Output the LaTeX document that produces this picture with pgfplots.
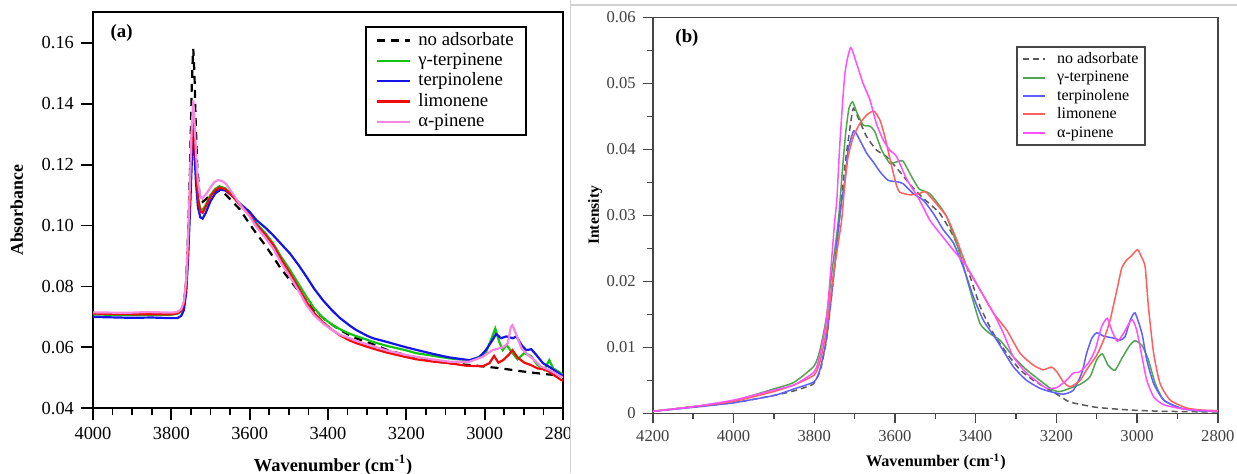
\documentclass[border=0pt]{standalone}
\usepackage{fontspec}
\setmainfont{Liberation Serif}
\usepackage{pgfplots}
\pgfplotsset{compat=1.18}
\definecolor{agreen}{RGB}{20,195,20}
\definecolor{ablue}{RGB}{20,20,230}
\definecolor{ared}{RGB}{240,10,10}
\definecolor{apink}{RGB}{245,135,225}
\definecolor{bgreen}{RGB}{80,165,80}
\definecolor{bblue}{RGB}{95,95,255}
\definecolor{bred}{RGB}{255,95,95}
\definecolor{bmag}{RGB}{255,80,255}
\definecolor{bgray}{RGB}{90,90,90}
\definecolor{bframe}{RGB}{70,70,70}
\begin{document}
\begin{tikzpicture}
\useasboundingbox (0,0) rectangle (618.5pt,236.5pt);
\begin{axis}[
  at={(46.5pt,32.35pt)}, anchor=south west,
  scale only axis, width=235pt, height=198pt,
  xmin=2800, xmax=4000, x dir=reverse, ymin=0.04, ymax=0.17,
  scaled ticks=false,
  xtick={2800,3000,3200,3400,3600,3800,4000},
  xticklabels={2800,3000,3200,3400,3600,3800,4000},
  minor x tick num=3,
  ytick={0.04,0.06,0.08,0.10,0.12,0.14,0.16},
  yticklabels={0.04,0.06,0.08,0.10,0.12,0.14,0.16},
  tick pos=left, tick align=outside,
  major tick length=6pt, minor tick length=3.5pt,
  every tick/.append style={black, line width=0.9pt},
  axis line style={line width=1pt},
  tick label style={font=\fontsize{9.2}{11}\selectfont},
  xlabel={\bfseries Wavenumber (cm\textsuperscript{-1})},
  ylabel={\bfseries Absorbance},
  xlabel style={font=\fontsize{9.2}{11}\selectfont, at={(axis description cs:0.511,-0.143)}, anchor=center},
  ylabel style={font=\fontsize{8.9}{11}\selectfont, at={(axis description cs:-0.162,0.5)}, anchor=center},
  legend style={at={(axis description cs:0.923,0.965)}, anchor=north east, draw=black, line width=1pt,
    font=\fontsize{9.4}{10}\selectfont, row sep=0pt, column sep=2.5pt, inner xsep=5pt, inner ysep=1.5pt,
    nodes={inner sep=1pt, text height=6.5pt, text depth=1.7pt}},
  legend cell align=left,
  legend image code/.code={\draw[#1, line width=1.25pt] (0pt,0pt) -- (16.5pt,0pt);},
]
\addplot[black, line width=1.1pt, dash pattern=on 4pt off 3pt] coordinates {
(4000,0.0712)(3900,0.0711)(3800,0.0711)(3785,0.0714)(3775,0.0722)(3768,0.0745)(3762,0.082)(3757,0.098)(3752,0.120)(3748,0.145)(3745,0.156)(3744,0.158)(3741,0.150)(3738,0.135)(3734,0.120)(3728,0.110)(3720,0.1078)(3710,0.1088)(3700,0.1102)(3688,0.1113)(3675,0.1115)(3660,0.1100)(3645,0.1080)(3625,0.1053)(3600,0.1005)(3583,0.0974)(3560,0.0935)(3540,0.0897)(3520,0.0858)(3497,0.0821)(3475,0.0785)(3455,0.0752)(3435,0.0722)(3413,0.0697)(3390,0.0675)(3370,0.0658)(3345,0.0640)(3328,0.0630)(3300,0.0617)(3285,0.0610)(3250,0.0592)(3200,0.0574)(3175,0.0564)(3130,0.0555)(3090,0.0548)(3022,0.0540)(2963,0.0532)(2903,0.0521)(2851,0.0513)(2805,0.0507)(2800,0.0506)};
\addlegendentry{no adsorbate}
\addplot[agreen, line width=1.1pt] coordinates {
(4000,0.0708)(3900,0.0706)(3800,0.0707)(3785,0.0710)(3775,0.0718)(3768,0.0742)(3762,0.080)(3757,0.093)(3752,0.110)(3748,0.126)(3745,0.1340)(3744,0.1355)(3741,0.129)(3737,0.119)(3732,0.109)(3726,0.1055)(3720,0.1051)(3712,0.1068)(3700,0.1100)(3688,0.1120)(3677,0.1129)(3662,0.1122)(3645,0.1100)(3625,0.1068)(3600,0.1038)(3583,0.1007)(3560,0.0975)(3540,0.0941)(3520,0.0898)(3497,0.0854)(3475,0.0808)(3455,0.0766)(3435,0.0728)(3413,0.0697)(3390,0.0675)(3370,0.0660)(3345,0.0645)(3328,0.0637)(3300,0.0625)(3285,0.0618)(3250,0.0605)(3200,0.0590)(3175,0.0581)(3130,0.0572)(3090,0.0564)(3039,0.0557)(3018,0.0567)(2997,0.0583)(2984,0.0624)(2973,0.0662)(2963,0.0619)(2954,0.0591)(2944,0.0608)(2929,0.0581)(2916,0.0561)(2899,0.0581)(2882,0.0572)(2865,0.0542)(2848,0.0526)(2835,0.0558)(2825,0.0531)(2805,0.0515)(2800,0.0512)};
\addlegendentry{γ-terpinene}
\addplot[ablue, line width=1.1pt] coordinates {
(4000,0.0700)(3900,0.0697)(3850,0.0698)(3800,0.0696)(3785,0.0696)(3775,0.0703)(3768,0.0722)(3762,0.078)(3757,0.090)(3752,0.106)(3748,0.120)(3745,0.1280)(3744,0.1296)(3741,0.124)(3737,0.114)(3732,0.106)(3726,0.1027)(3720,0.1023)(3712,0.1042)(3700,0.1080)(3688,0.1105)(3675,0.1118)(3662,0.1115)(3645,0.1098)(3625,0.1072)(3600,0.1045)(3583,0.1018)(3560,0.0993)(3540,0.0968)(3520,0.0940)(3497,0.0908)(3475,0.0870)(3455,0.0832)(3435,0.0792)(3413,0.0755)(3390,0.0722)(3370,0.0697)(3345,0.0672)(3328,0.0657)(3300,0.0638)(3285,0.0630)(3250,0.0618)(3200,0.0600)(3175,0.0592)(3130,0.0578)(3090,0.0567)(3039,0.0558)(3014,0.0567)(2997,0.0591)(2980,0.0624)(2971,0.0644)(2958,0.0630)(2945,0.0636)(2928,0.0630)(2919,0.0636)(2906,0.0608)(2894,0.0591)(2881,0.0594)(2868,0.0575)(2851,0.0548)(2834,0.0535)(2805,0.0510)(2800,0.0508)};
\addlegendentry{terpinolene}
\addplot[ared, line width=1.1pt] coordinates {
(4000,0.0711)(3900,0.0709)(3800,0.0709)(3785,0.0712)(3775,0.0720)(3768,0.0742)(3762,0.080)(3757,0.094)(3752,0.112)(3748,0.128)(3745,0.136)(3744,0.1375)(3741,0.131)(3737,0.120)(3732,0.109)(3726,0.1045)(3720,0.1042)(3712,0.1062)(3700,0.1096)(3688,0.1116)(3677,0.1125)(3662,0.1119)(3645,0.1098)(3625,0.1068)(3600,0.1035)(3583,0.1002)(3560,0.0970)(3540,0.0936)(3520,0.0890)(3497,0.0843)(3475,0.0795)(3455,0.0750)(3435,0.0712)(3413,0.0683)(3390,0.0658)(3370,0.0640)(3345,0.0623)(3328,0.0614)(3300,0.0602)(3285,0.0596)(3250,0.0583)(3200,0.0568)(3175,0.0561)(3130,0.0553)(3090,0.0548)(3048,0.0540)(3005,0.0538)(2988,0.0548)(2976,0.0572)(2965,0.0550)(2953,0.0558)(2939,0.0575)(2929,0.0591)(2916,0.0567)(2899,0.0550)(2882,0.0542)(2865,0.0531)(2848,0.0528)(2835,0.0520)(2805,0.0493)(2800,0.0491)};
\addlegendentry{limonene}
\addplot[apink, line width=1.1pt] coordinates {
(4000,0.0715)(3950,0.0714)(3900,0.0714)(3860,0.0716)(3800,0.0714)(3785,0.0716)(3775,0.0725)(3768,0.0750)(3762,0.082)(3757,0.097)(3752,0.116)(3748,0.132)(3745,0.139)(3744,0.1411)(3741,0.135)(3737,0.124)(3732,0.114)(3726,0.1095)(3721,0.1089)(3712,0.1102)(3700,0.1125)(3690,0.1143)(3681,0.1149)(3670,0.1146)(3660,0.1136)(3645,0.1108)(3625,0.1070)(3600,0.1030)(3583,0.0996)(3560,0.0960)(3540,0.0925)(3520,0.0878)(3497,0.0832)(3475,0.0785)(3455,0.0739)(3435,0.0705)(3413,0.0679)(3390,0.0657)(3370,0.0642)(3345,0.0630)(3328,0.0621)(3300,0.0610)(3285,0.0604)(3250,0.0590)(3200,0.0575)(3175,0.0569)(3130,0.0560)(3090,0.0553)(3039,0.0553)(3005,0.0569)(2980,0.0591)(2954,0.0600)(2941,0.0613)(2933,0.0668)(2929,0.0673)(2919,0.0641)(2906,0.0597)(2889,0.0575)(2873,0.0558)(2856,0.0537)(2835,0.0526)(2805,0.0504)(2800,0.0502)};
\addlegendentry{α-pinene}
\node[font=\bfseries\fontsize{9.4}{11}\selectfont] at (axis description cs:0.061,0.947) {(a)};
\end{axis}
\fill[white] (285pt,-1pt) rectangle (620pt,238pt);
\draw[gray!35, line width=0.6pt] (285.3pt,0pt) -- (285.3pt,236.5pt);
\draw[gray!35, line width=0.6pt] (285.3pt,234pt) -- (618.5pt,234pt);
\begin{axis}[
  at={(326.4pt,29.85pt)}, anchor=south west,
  scale only axis, width=282.5pt, height=198pt,
  xmin=2800, xmax=4200, x dir=reverse, ymin=0, ymax=0.06,
  scaled ticks=false,
  xtick={2800,3000,3200,3400,3600,3800,4000,4200},
  xticklabels={2800,3000,3200,3400,3600,3800,4000,4200},
  minor x tick num=1,
  ytick={0,0.01,0.02,0.03,0.04,0.05,0.06},
  yticklabels={0,0.01,0.02,0.03,0.04,0.05,0.06},
  minor y tick num=1,
  tick pos=left, tick align=outside,
  major tick length=5pt, minor tick length=2.8pt,
  every tick/.append style={bframe, line width=0.7pt},
  axis line style={bframe, line width=0.75pt},
  tick label style={font=\fontsize{8.3}{10}\selectfont, text=black!75},
  xlabel={\bfseries Wavenumber (cm\textsuperscript{-1})},
  ylabel={\bfseries Intensity},
  xlabel style={font=\fontsize{8.1}{10}\selectfont, at={(axis description cs:0.501,-0.123)}, anchor=center},
  ylabel style={font=\fontsize{7.8}{10}\selectfont, at={(axis description cs:-0.102,0.5)}, anchor=center},
  legend style={at={(axis description cs:0.873,0.927)}, anchor=north east, draw=bframe, line width=0.8pt,
    font=\fontsize{8}{9}\selectfont, row sep=0pt, column sep=4.5pt, inner xsep=2.5pt, inner ysep=1.5pt,
    nodes={inner sep=0.9pt, text height=5.8pt, text depth=1.6pt}},
  legend cell align=left,
  legend image code/.code={\draw[#1, line width=1pt] (0pt,0pt) -- (11.3pt,0pt);},
  every axis plot/.append style={smooth, tension=0.35},
]
\addplot[bgray, line width=0.75pt, dash pattern=on 3pt off 2pt] coordinates {
(4200,0.0003)(4100,0.0010)(4000,0.0016)(3900,0.0027)(3850,0.0034)(3810,0.0042)(3800,0.0046)(3785,0.0065)(3770,0.0110)(3755,0.0190)(3738,0.0290)(3725,0.0370)(3712,0.0430)(3703,0.0462)(3687,0.0442)(3670,0.0419)(3646,0.0399)(3621,0.0389)(3588,0.0366)(3560,0.0345)(3530,0.0326)(3489,0.0303)(3455,0.0268)(3422,0.0222)(3389,0.0162)(3356,0.0121)(3323,0.0091)(3290,0.0066)(3257,0.0050)(3224,0.0038)(3191,0.0026)(3166,0.0017)(3100,0.0009)(3017,0.0005)(2934,0.0003)(2800,0.0002)};
\addlegendentry{no adsorbate}
\addplot[bgreen, line width=0.75pt] coordinates {
(4200,0.0003)(4100,0.0010)(4000,0.0019)(3900,0.0037)(3850,0.0047)(3800,0.0072)(3785,0.0098)(3770,0.0145)(3755,0.0220)(3740,0.0293)(3730,0.0370)(3722,0.0425)(3714,0.0462)(3705,0.0472)(3695,0.0457)(3679,0.0437)(3662,0.0435)(3650,0.0427)(3633,0.0399)(3613,0.0379)(3596,0.0381)(3580,0.0382)(3560,0.0360)(3540,0.0340)(3514,0.0333)(3490,0.0315)(3472,0.0298)(3455,0.0270)(3439,0.0242)(3414,0.0187)(3389,0.0136)(3365,0.0121)(3340,0.0111)(3307,0.0086)(3274,0.0066)(3241,0.0050)(3208,0.0035)(3191,0.0033)(3175,0.0036)(3141,0.0044)(3117,0.0055)(3100,0.0081)(3086,0.0090)(3072,0.0073)(3055,0.0065)(3038,0.0083)(3018,0.0103)(3005,0.0110)(2988,0.0103)(2972,0.0081)(2955,0.0045)(2934,0.0020)(2893,0.0008)(2850,0.0004)(2800,0.0003)};
\addlegendentry{γ-terpinene}
\addplot[bblue, line width=0.75pt] coordinates {
(4200,0.0003)(4100,0.0009)(4000,0.0016)(3900,0.0027)(3850,0.0037)(3800,0.0048)(3785,0.0068)(3770,0.0112)(3755,0.0190)(3738,0.0293)(3730,0.0330)(3724,0.0353)(3716,0.0399)(3702,0.0428)(3687,0.0414)(3670,0.0394)(3654,0.0381)(3637,0.0366)(3617,0.0353)(3596,0.0351)(3580,0.0348)(3555,0.0333)(3530,0.0323)(3505,0.0303)(3480,0.0278)(3455,0.0258)(3431,0.0222)(3406,0.0177)(3381,0.0141)(3348,0.0111)(3307,0.0071)(3274,0.0050)(3241,0.0038)(3216,0.0033)(3183,0.0029)(3158,0.0035)(3137,0.0061)(3125,0.0091)(3112,0.0114)(3100,0.0122)(3083,0.0117)(3059,0.0114)(3042,0.0111)(3030,0.0116)(3017,0.0141)(3005,0.0152)(2988,0.0121)(2976,0.0081)(2959,0.0045)(2934,0.0020)(2893,0.0008)(2850,0.0004)(2800,0.0003)};
\addlegendentry{terpinolene}
\addplot[bred, line width=0.75pt] coordinates {
(4200,0.0003)(4100,0.0010)(4000,0.0018)(3900,0.0033)(3850,0.0043)(3800,0.0058)(3785,0.0080)(3770,0.0125)(3755,0.0200)(3740,0.0260)(3732,0.0293)(3724,0.0348)(3716,0.0389)(3703,0.0419)(3687,0.0439)(3670,0.0452)(3652,0.0458)(3637,0.0444)(3625,0.0419)(3608,0.0374)(3596,0.0345)(3588,0.0335)(3563,0.0331)(3539,0.0333)(3525,0.0336)(3505,0.0323)(3472,0.0298)(3447,0.0263)(3422,0.0222)(3389,0.0187)(3356,0.0152)(3323,0.0126)(3290,0.0091)(3257,0.0073)(3233,0.0066)(3212,0.0070)(3199,0.0063)(3183,0.0048)(3166,0.0040)(3141,0.0050)(3125,0.0066)(3100,0.0088)(3083,0.0111)(3067,0.0141)(3050,0.0187)(3038,0.0220)(3026,0.0232)(3015,0.0238)(2999,0.0248)(2990,0.0238)(2980,0.0222)(2972,0.0162)(2959,0.0091)(2943,0.0045)(2918,0.0020)(2877,0.0008)(2840,0.0005)(2800,0.0004)};
\addlegendentry{limonene}
\addplot[bmag, line width=0.75pt] coordinates {
(4200,0.0003)(4100,0.0010)(4000,0.0020)(3900,0.0035)(3850,0.0043)(3800,0.0063)(3785,0.0090)(3770,0.0140)(3760,0.0210)(3749,0.0293)(3744,0.0323)(3736,0.0414)(3724,0.0515)(3710,0.0554)(3695,0.0530)(3679,0.0500)(3662,0.0475)(3646,0.0439)(3629,0.0414)(3613,0.0399)(3596,0.0389)(3571,0.0355)(3539,0.0323)(3514,0.0293)(3489,0.0273)(3455,0.0247)(3422,0.0222)(3389,0.0187)(3356,0.0152)(3331,0.0121)(3307,0.0086)(3274,0.0061)(3241,0.0045)(3224,0.0038)(3199,0.0039)(3175,0.0050)(3158,0.0061)(3141,0.0063)(3121,0.0076)(3104,0.0096)(3088,0.0131)(3074,0.0144)(3063,0.0126)(3049,0.0109)(3034,0.0121)(3013,0.0142)(3001,0.0126)(2988,0.0086)(2976,0.0050)(2959,0.0025)(2934,0.0013)(2880,0.0006)(2800,0.0003)};
\addlegendentry{α-pinene}
\node[font=\bfseries\fontsize{9.4}{11}\selectfont] at (axis description cs:0.0605,0.949) {(b)};
\end{axis}
\end{tikzpicture}
\end{document}
